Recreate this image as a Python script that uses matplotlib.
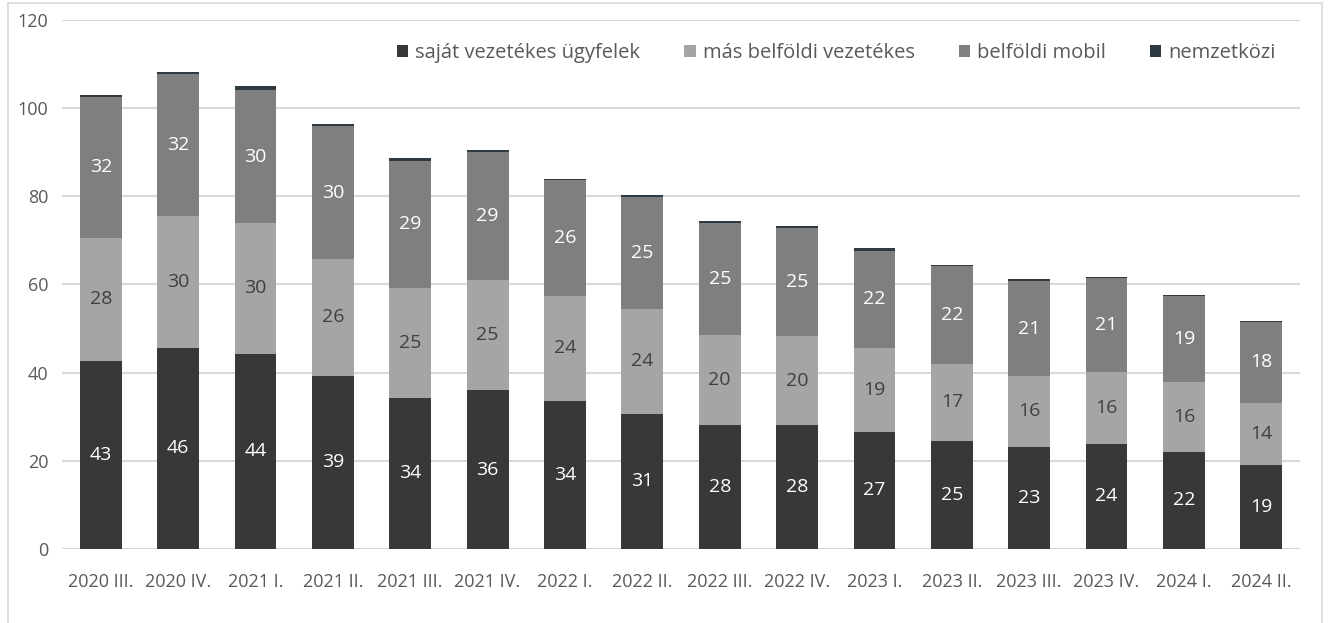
import matplotlib.pyplot as plt
from matplotlib.patches import Rectangle

plt.rcParams['font.family'] = ['Open Sans', 'DejaVu Sans']

quarters = ["2020 III.", "2020 IV.", "2021 I.", "2021 II.", "2021 III.", "2021 IV.",
            "2022 I.", "2022 II.", "2022 III.", "2022 IV.", "2023 I.", "2023 II.",
            "2023 III.", "2023 IV.", "2024 I.", "2024 II."]

# segment values
sajat = [42.7, 45.6, 44.3, 39.3, 34.3, 36.0, 33.6, 30.7, 28.1, 28.1, 26.6, 24.6, 23.2, 23.9, 22.1, 19.1]
mas_belfoldi = [27.9, 30.0, 29.6, 26.5, 24.9, 25.1, 23.8, 23.8, 20.4, 20.2, 18.9, 17.4, 16.1, 16.2, 15.8, 14.1]
mobil = [32.0, 32.2, 30.2, 30.1, 28.9, 29.0, 26.3, 25.4, 25.4, 24.6, 22.2, 22.1, 21.4, 21.3, 19.4, 18.3]
nemzetkozi = [0.4, 0.4, 0.9, 0.5, 0.5, 0.4, 0.3, 0.4, 0.4, 0.4, 0.5, 0.3, 0.5, 0.4, 0.3, 0.3]

series_names = ["saját vezetékes ügyfelek", "más belföldi vezetékes", "belföldi mobil", "nemzetközi"]

fig = plt.figure(figsize=(13.29, 6.23), dpi=100)
ax = fig.add_axes([0.0467, 0.1188, 0.9315, 0.8492])

x = range(len(quarters))
w = 0.54
b1 = ax.bar(x, sajat, w, color='#393836', label=series_names[0], zorder=3)
bottom2 = [a for a in sajat]
b2 = ax.bar(x, mas_belfoldi, w, bottom=bottom2, color='#a5a5a5', label=series_names[1], zorder=3)
bottom3 = [a + b for a, b in zip(sajat, mas_belfoldi)]
b3 = ax.bar(x, mobil, w, bottom=bottom3, color='#7f7f7f', label=series_names[2], zorder=3)
bottom4 = [a + b for a, b in zip(bottom3, mobil)]
b4 = ax.bar(x, nemzetkozi, w, bottom=bottom4, color='#2e3a42', label=series_names[3], zorder=3)

ax.bar_label(b1, fmt='%.0f', label_type='center', color='white', fontsize=14)
ax.bar_label(b2, fmt='%.0f', label_type='center', color='#404040', fontsize=14)
ax.bar_label(b3, fmt='%.0f', label_type='center', color='white', fontsize=14)

ax.set_xlim(-0.5, len(quarters) - 0.5)
ax.set_ylim(0, 120)
ax.set_yticks(range(0, 121, 20))
ax.set_xticks(list(x))
ax.set_xticklabels(quarters)
ax.yaxis.grid(True, color='#d9d9d9', linewidth=1.5, zorder=0)
ax.set_axisbelow(True)
for s in ax.spines.values():
    s.set_visible(False)
ax.tick_params(axis='both', length=0, colors='#595959', labelsize=13)
ax.tick_params(axis='x', pad=17)
ax.tick_params(axis='y', pad=10)

leg = ax.legend(loc='upper right', bbox_to_anchor=(0.995, 0.99), ncol=4, frameon=False,
                fontsize=14.5, handlelength=0.55, handleheight=0.55, columnspacing=2.2,
                handletextpad=0.35)
for t in leg.get_texts():
    t.set_color('#595959')

# chart area border
fig.patches.append(Rectangle((8 / 1329, -0.1), 1314 / 1329, 1.1 - 3 / 623, transform=fig.transFigure,
                             fill=False, edgecolor='#d9d9d9', linewidth=1.2))

fig.savefig('out.png', dpi=100)
